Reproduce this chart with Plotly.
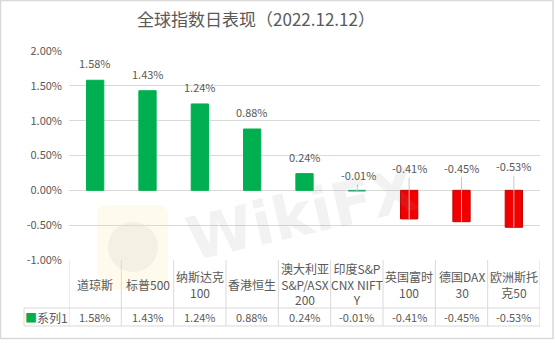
import plotly.graph_objects as go

# ---- data ----
categories = ["道琼斯", "标普500", "纳斯达克<br>100", "香港恒生", "澳大利亚<br>S&P/ASX<br>200",
              "印度S&P<br>CNX NIFT<br>Y", "英国富时<br>100", "德国DAX<br>30", "欧洲斯托<br>克50"]
values = [1.58, 1.43, 1.24, 0.88, 0.24, -0.01, -0.41, -0.45, -0.53]
series_name = "系列1"
title_text = "全球指数日表现（2022.12.12）"

# ---- styles ----
GREEN = "#00B050"
RED = "#F20000"
bar_colors = [GREEN, GREEN, GREEN, GREEN, GREEN, GREEN, RED, RED, RED]
bar_lines = [GREEN, GREEN, GREEN, GREEN, GREEN, "#2aa876", "#C00000", "#C00000", "#C00000"]
TXT = "#595959"
GRID = "#d9d9d9"
FONT = "Noto Sans CJK SC"

W, H = 555, 343
ML, MR, MT, MB = 69, 15, 51, 83
plot_w = W - ML - MR
plot_h = H - MT - MB
y_lo, y_hi = -1.0, 2.0
ppu = plot_h / (y_hi - y_lo)

n = len(categories)
x = list(range(n))


def px(xp):
    return (xp - ML) / plot_w


def py(yp):
    return (H - MB - yp) / plot_h


fig = go.Figure()
fig.add_trace(go.Bar(
    x=x, y=values, width=0.33,
    marker=dict(color=bar_colors, line=dict(color=bar_lines, width=1)),
    name=series_name, showlegend=False, hoverinfo="skip",
))

annotations = []
# data labels
for i, v in enumerate(values):
    lab = f"{v:.2f}%"
    if v >= 0:
        annotations.append(dict(x=i, y=v, xref="x", yref="y", text=lab, showarrow=False,
                                yanchor="bottom", yshift=7,
                                font=dict(size=11, color=TXT, family=FONT)))
    else:
        lift = 15 + 17 * abs(v)
        ay = -(abs(v) * ppu + lift)
        annotations.append(dict(x=i, y=v, xref="x", yref="y", text=lab, showarrow=True,
                                arrowhead=0, arrowwidth=1, arrowcolor="#c8c8c8",
                                ax=2 if abs(v) < 0.05 else 0, ay=ay, standoff=0,
                                font=dict(size=11, color=TXT, family=FONT)))

# table geometry (paper y)
row1 = py(308)
row2 = py(326)
hdr_c = (0 + row1) / 2
dat_c = (row1 + row2) / 2
leg_left = px(24)

shapes = []
line = dict(color=GRID, width=1)
shapes.append(dict(type="line", xref="paper", yref="paper", x0=leg_left, x1=0, y0=row1, y1=row1, line=line))
shapes.append(dict(type="line", xref="paper", yref="paper", x0=leg_left, x1=0, y0=row2, y1=row2, line=line))
shapes.append(dict(type="line", xref="paper", yref="paper", x0=leg_left, x1=leg_left, y0=row1, y1=row2, line=line))
shapes.append(dict(type="line", xref="x", yref="paper", x0=-0.5, x1=n - 0.5, y0=row1, y1=row1, line=line))
shapes.append(dict(type="line", xref="x", yref="paper", x0=-0.5, x1=n - 0.5, y0=row2, y1=row2, line=line))
for k in range(n + 1):
    shapes.append(dict(type="line", xref="x", yref="paper", x0=k - 0.5, x1=k - 0.5, y0=0, y1=row2, line=line))

for i, c in enumerate(categories):
    annotations.append(dict(x=i, y=hdr_c, xref="x", yref="paper", text=c, showarrow=False,
                            yanchor="middle", font=dict(size=12, color=TXT, family=FONT)))
    annotations.append(dict(x=i, y=dat_c, xref="x", yref="paper", text=f"{values[i]:.2f}%",
                            showarrow=False, yanchor="middle",
                            font=dict(size=11, color=TXT, family=FONT)))
annotations.append(dict(x=(leg_left + 0) / 2, y=dat_c, xref="paper", yref="paper",
                        xanchor="center", yanchor="middle",
                        text=f"<span style='color:{GREEN}'>■</span>{series_name}",
                        showarrow=False, font=dict(size=12, color=TXT, family=FONT)))

# watermark
annotations.append(dict(x=px(302), y=py(214), xref="paper", yref="paper",
                        xanchor="center", yanchor="middle",
                        text="<b>WikiFX</b>", showarrow=False, textangle=-13,
                        font=dict(size=60, color="rgba(150,150,150,0.12)", family="DejaVu Sans")))
x0, x1, y0, y1 = 97, 168, 205, 290
r = 10
path = (f"M {px(x0 + r)},{py(y0)} L {px(x1 - r)},{py(y0)} Q {px(x1)},{py(y0)} {px(x1)},{py(y0 + r)} "
        f"L {px(x1)},{py(y1 - r)} Q {px(x1)},{py(y1)} {px(x1 - r)},{py(y1)} "
        f"L {px(x0 + r)},{py(y1)} Q {px(x0)},{py(y1)} {px(x0)},{py(y1 - r)} "
        f"L {px(x0)},{py(y0 + r)} Q {px(x0)},{py(y0)} {px(x0 + r)},{py(y0)} Z")
shapes.append(dict(type="path", xref="paper", yref="paper", path=path,
                   fillcolor="rgba(250,228,160,0.20)", line=dict(width=0), layer="below"))
shapes.append(dict(type="circle", xref="paper", yref="paper",
                   x0=px(108), x1=px(158), y0=py(222), y1=py(272),
                   fillcolor="rgba(170,170,170,0.12)", line=dict(width=0), layer="below"))

# outer border
shapes.append(dict(type="rect", xref="paper", yref="paper",
                   x0=px(0.5), x1=px(553), y0=py(0.5), y1=py(338.5),
                   line=dict(color="#d9d9d9", width=1.5), fillcolor="rgba(0,0,0,0)"))

fig.update_layout(
    width=W, height=H, autosize=False,
    margin=dict(l=ML, r=MR, t=MT, b=MB),
    paper_bgcolor="white", plot_bgcolor="white",
    font=dict(family=FONT, color=TXT),
    title=dict(text=title_text, xref="container", yref="container",
               x=256 / W, y=1 - 20 / H, xanchor="center", yanchor="middle",
               font=dict(size=17, color=TXT, family=FONT)),
    xaxis=dict(range=[-0.5, n - 0.5], showticklabels=False, showgrid=False, zeroline=False,
               showline=False, ticks="", fixedrange=True),
    yaxis=dict(range=[y_lo, y_hi], tickvals=[-1, -0.5, 0, 0.5, 1, 1.5, 2],
               ticktext=[f"{t:.2f}%" for t in [-1, -0.5, 0, 0.5, 1, 1.5, 2]],
               showgrid=True, gridcolor=GRID, gridwidth=1, zeroline=True, zerolinecolor=GRID,
               zerolinewidth=1, showline=False, ticks="", tickfont=dict(size=11, color=TXT),
               ticklabelstandoff=6, fixedrange=True),
    shapes=shapes, annotations=annotations, showlegend=False,
)

fig.write_html("out.html")
